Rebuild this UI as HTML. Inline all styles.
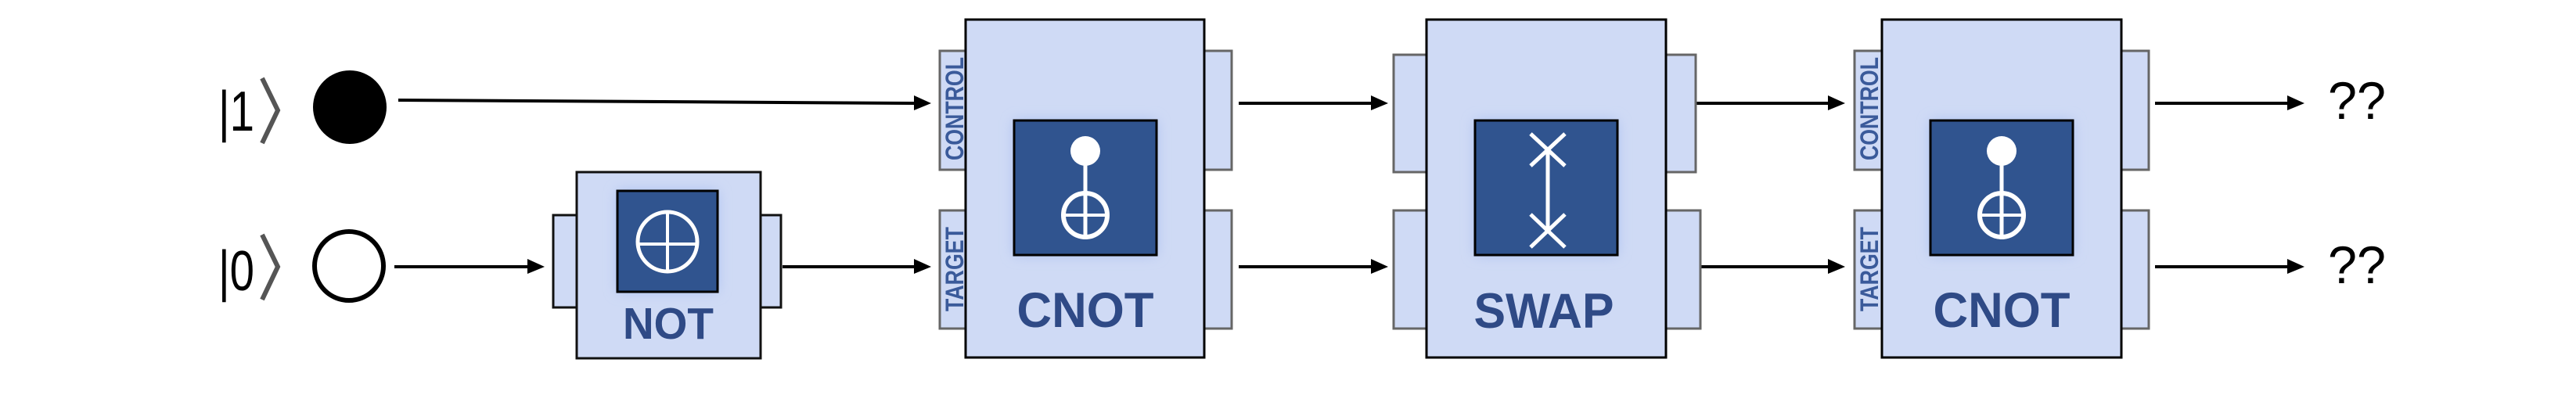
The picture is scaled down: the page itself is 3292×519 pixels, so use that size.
<!DOCTYPE html>
<html><head><meta charset="utf-8"><style>html,body{margin:0;padding:0;background:#fff}svg{display:block}</style></head>
<body>
<svg width="3292" height="519" viewBox="0 0 3292 519" xmlns="http://www.w3.org/2000/svg">
<defs>
<filter id="glow" x="-30%" y="-30%" width="160%" height="160%">
<feGaussianBlur stdDeviation="8"/>
</filter>
</defs>
<g font-family="Liberation Sans, sans-serif">
<!-- kets -->
<text x="279" y="167" font-size="72" fill="#000" textLength="46" lengthAdjust="spacingAndGlyphs">|1</text>
<polyline points="335,100 355,141 335,183" fill="none" stroke="#555" stroke-width="6"/>
<text x="279" y="371" font-size="72" fill="#000" textLength="46" lengthAdjust="spacingAndGlyphs">|0</text>
<polyline points="335,300 355,341 335,383" fill="none" stroke="#555" stroke-width="6"/>
<circle cx="447" cy="137" r="47" fill="#000"/>
<circle cx="446" cy="340" r="44" fill="none" stroke="#000" stroke-width="6"/>

<!-- arrows -->
<g stroke="#000" stroke-width="4">
<line x1="509" y1="128" x2="1170" y2="132"/>
<line x1="504" y1="341" x2="676" y2="341"/>
<line x1="1000" y1="341" x2="1170" y2="341"/>
<line x1="1583" y1="132" x2="1755" y2="132"/>
<line x1="1583" y1="341" x2="1755" y2="341"/>
<line x1="2167" y1="132" x2="2340" y2="132"/>
<line x1="2167" y1="341" x2="2340" y2="341"/>
<line x1="2754" y1="132" x2="2927" y2="132"/>
<line x1="2754" y1="341" x2="2927" y2="341"/>
</g>
<g fill="#000">
<polygon points="1168,122 1190,132 1168,141"/>
<polygon points="674,331 696,341 674,350"/>
<polygon points="1168,331 1190,341 1168,350"/>
<polygon points="1752,122 1774,132 1752,141"/>
<polygon points="1752,331 1774,341 1752,350"/>
<polygon points="2336,122 2358,132 2336,141"/>
<polygon points="2336,331 2358,341 2336,350"/>
<polygon points="2923,122 2945,132 2923,141"/>
<polygon points="2923,331 2945,341 2923,350"/>
</g>

<!-- NOT -->
<g stroke="#111" stroke-width="3" fill="#cfdaf5">
<rect x="707" y="275" width="32" height="118"/>
<rect x="970" y="275" width="28" height="118"/>
<rect x="737" y="220" width="235" height="238"/>
</g>
<rect x="789" y="244" width="128" height="129" fill="#a9bff0" filter="url(#glow)"/>
<rect x="789" y="244" width="128" height="129" fill="#30548f" stroke="#000" stroke-width="3"/>
<circle cx="853" cy="309" r="38" fill="none" stroke="#fff" stroke-width="5"/>
<line x1="853" y1="271" x2="853" y2="347" stroke="#fff" stroke-width="4"/>
<line x1="815" y1="312" x2="891" y2="312" stroke="#fff" stroke-width="4"/>
<text x="854" y="433" font-size="57" font-weight="bold" fill="#2f4a86" text-anchor="middle" textLength="116" lengthAdjust="spacingAndGlyphs">NOT</text>

<!-- CNOT 1 -->
<g stroke="#666" stroke-width="3" fill="#cfdaf5">
<rect x="1201" y="65" width="36" height="152"/>
<rect x="1201" y="269" width="36" height="151"/>
<rect x="1537" y="65" width="37" height="152"/>
<rect x="1537" y="269" width="37" height="151"/>
</g>
<rect x="1234" y="25" width="305" height="432" fill="#cfdaf5" stroke="#000" stroke-width="3"/>
<text transform="translate(1231,205) rotate(-90)" font-size="32" font-weight="bold" fill="#3a5a9a" textLength="132" lengthAdjust="spacingAndGlyphs">CONTROL</text>
<text transform="translate(1231,398) rotate(-90)" font-size="32" font-weight="bold" fill="#3a5a9a" textLength="108" lengthAdjust="spacingAndGlyphs">TARGET</text>
<rect x="1296" y="154" width="182" height="172" fill="#a9bff0" filter="url(#glow)"/>
<rect x="1296" y="154" width="182" height="172" fill="#30548f" stroke="#000" stroke-width="3"/>
<circle cx="1387" cy="193" r="19" fill="#fff"/>
<line x1="1387" y1="205" x2="1387" y2="306" stroke="#fff" stroke-width="5"/>
<circle cx="1387" cy="275" r="28" fill="none" stroke="#fff" stroke-width="6"/>
<line x1="1359" y1="275" x2="1415" y2="275" stroke="#fff" stroke-width="4"/>
<text x="1387" y="418" font-size="63" font-weight="bold" fill="#2f4a86" text-anchor="middle" textLength="175" lengthAdjust="spacingAndGlyphs">CNOT</text>

<!-- SWAP -->
<g stroke="#666" stroke-width="3" fill="#cfdaf5">
<rect x="1781" y="70" width="44" height="150"/>
<rect x="1781" y="269" width="44" height="151"/>
<rect x="2127" y="70" width="40" height="150"/>
<rect x="2127" y="269" width="46" height="151"/>
</g>
<rect x="1823" y="25" width="306" height="432" fill="#cfdaf5" stroke="#000" stroke-width="3"/>
<rect x="1885" y="154" width="182" height="172" fill="#a9bff0" filter="url(#glow)"/>
<rect x="1885" y="154" width="182" height="172" fill="#30548f" stroke="#000" stroke-width="3"/>
<g stroke="#fff" stroke-width="5">
<line x1="1978" y1="192" x2="1978" y2="295"/>
<line x1="1956" y1="171" x2="2000" y2="212"/>
<line x1="2000" y1="171" x2="1956" y2="212"/>
<line x1="1956" y1="274" x2="2000" y2="316"/>
<line x1="2000" y1="274" x2="1956" y2="316"/>
</g>
<text x="1973" y="419" font-size="63" font-weight="bold" fill="#2f4a86" text-anchor="middle" textLength="179" lengthAdjust="spacingAndGlyphs">SWAP</text>

<!-- CNOT 2 -->
<g stroke="#666" stroke-width="3" fill="#cfdaf5">
<rect x="2370" y="65" width="37" height="152"/>
<rect x="2370" y="269" width="37" height="151"/>
<rect x="2709" y="65" width="37" height="152"/>
<rect x="2709" y="269" width="37" height="151"/>
</g>
<rect x="2405" y="25" width="306" height="432" fill="#cfdaf5" stroke="#000" stroke-width="3"/>
<text transform="translate(2400,205) rotate(-90)" font-size="32" font-weight="bold" fill="#3a5a9a" textLength="132" lengthAdjust="spacingAndGlyphs">CONTROL</text>
<text transform="translate(2400,398) rotate(-90)" font-size="32" font-weight="bold" fill="#3a5a9a" textLength="108" lengthAdjust="spacingAndGlyphs">TARGET</text>
<rect x="2467" y="154" width="182" height="172" fill="#a9bff0" filter="url(#glow)"/>
<rect x="2467" y="154" width="182" height="172" fill="#30548f" stroke="#000" stroke-width="3"/>
<circle cx="2558" cy="193" r="19" fill="#fff"/>
<line x1="2558" y1="205" x2="2558" y2="306" stroke="#fff" stroke-width="5"/>
<circle cx="2558" cy="275" r="28" fill="none" stroke="#fff" stroke-width="6"/>
<line x1="2530" y1="275" x2="2586" y2="275" stroke="#fff" stroke-width="4"/>
<text x="2558" y="418" font-size="63" font-weight="bold" fill="#2f4a86" text-anchor="middle" textLength="175" lengthAdjust="spacingAndGlyphs">CNOT</text>

<!-- outputs -->
<text x="2975" y="152" font-size="68" fill="#000" textLength="74" lengthAdjust="spacingAndGlyphs">??</text>
<text x="2975" y="362" font-size="68" fill="#000" textLength="74" lengthAdjust="spacingAndGlyphs">??</text>
</g>
</svg>
</body></html>
